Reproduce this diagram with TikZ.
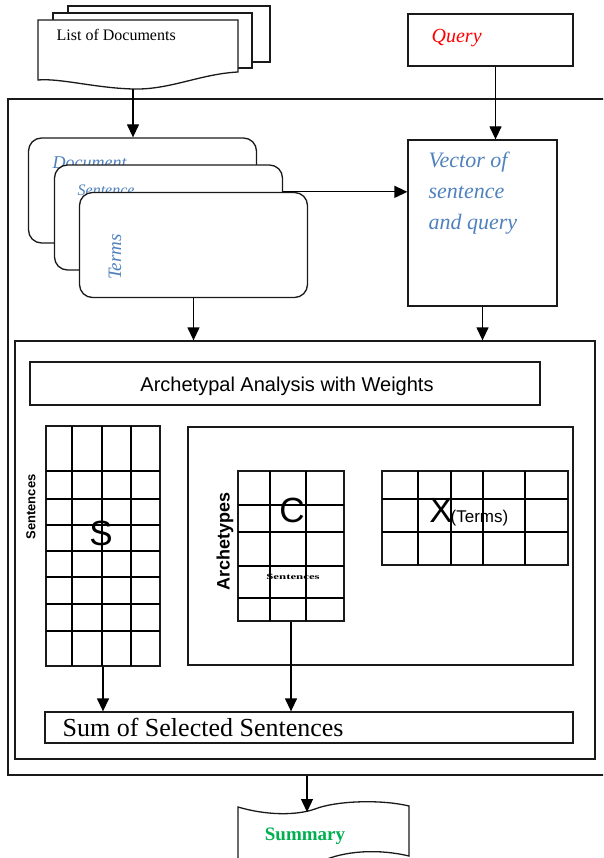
\documentclass[tikz,border=0pt]{standalone}
\usepackage{fontspec}
\setmainfont{Liberation Serif}
\setsansfont{Liberation Sans}
\usepackage{graphicx}
\usetikzlibrary{arrows.meta,positioning,calc}
\definecolor{ink}{HTML}{1a1a1a}
\definecolor{qred}{HTML}{FF0000}
\definecolor{vblue}{HTML}{4F81BD}
\definecolor{sgreen}{HTML}{00B050}
\newcommand{\fsz}[1]{\fontsize{#1}{#1}\selectfont}

\begin{document}
\begin{tikzpicture}[x=1pt, y=-1pt,
  line width=1.3pt,
  box/.style={draw=ink, inner sep=0pt},
  card/.style={draw=ink, fill=white, rounded corners=13pt, inner sep=0pt, minimum width=228pt, minimum height=105pt},
  sheet/.style={draw=ink, fill=white},
  tag/.style={text=vblue, inner sep=0pt},
  big/.style={font=\sffamily\fsz{35}, inner sep=0pt},
  >={Triangle[width=12pt,length=13pt]}]
  \clip (0,0) rectangle (603,858);
  % frames
  \node[box, minimum width=598pt, minimum height=676pt] (outer) at (307,437) {};
  \node[box, minimum width=580pt, minimum height=418pt] (inner) at (305,550) {};
  % list of documents
  \draw[sheet] (68,6) rectangle (270,62);
  \draw[sheet] (53,13) rectangle (252,68);
  \draw[sheet] (38,20) -- (238,20) -- (238,72) .. controls (200,74) and (170,90) .. (133,89)
    .. controls (95,88) and (60,78) .. (38,80) -- cycle;
  \coordinate (docbot) at (133,89);
  \node[anchor=west, inner sep=0pt, font=\fsz{16}] (docs) at (56,35) {List of Documents};
  % query and vector
  \node[box, minimum width=165pt, minimum height=52pt] (query) at (490.5,40) {};
  \node[anchor=west, inner sep=0pt, text=qred, font=\itshape\fsz{20}] (qtxt) at (431,38) {Query};
  \node[box, minimum width=149pt, minimum height=166pt] (vector) at (482.5,223) {};
  \node[tag, anchor=north west, align=left, font=\itshape\fontsize{22}{31}\selectfont] (vtxt) at (428,151)
    {Vector of\\ sentence\\ and query};
  % cards
  \node[card] (card1) at (142.5,190.5) {};
  \node[tag, anchor=base west, font=\itshape\fsz{18}] (doctag) at (52,169) {Document};
  \node[card] (card2) at (168.5,217.5) {};
  \node[tag, anchor=base west, font=\itshape\fsz{16}] (senttag) at (77,196) {Sentence};
  \node[card] (card3) at (193.5,245) {};
  \node[tag, rotate=90, font=\itshape\fsz{19}] (termtag) at (115,257) {Terms};
  % archetypal analysis
  \node[box, minimum width=510pt, minimum height=43pt] (aa) at (285,383.5) {};
  \node[inner sep=0pt, font=\sffamily\fsz{20}] (aatxt) at (287,386) {Archetypal Analysis with Weights};
  % S matrix
  \node[box, minimum width=114pt, minimum height=240pt] (sgrid) at (103,546) {};
  \foreach \x in {72,102,131} \draw (\x,426) -- (\x,666);
  \foreach \y in {471,499,525,551,577,604,631} \draw (46,\y) -- (160,\y);
  \node[big] (stxt) at (101,533) {S};
  \node[rotate=90, inner sep=0pt, font=\sffamily\bfseries\fsz{13}] (srow) at (31,507) {Sentences};
  % C and X
  \node[box, minimum width=385pt, minimum height=238pt] (cbox) at (380.5,546) {};
  \node[box, minimum width=106pt, minimum height=150pt] (cgrid) at (291,546) {};
  \foreach \x in {270,306} \draw (\x,471) -- (\x,621);
  \foreach \y in {505,532,566,598} \draw (238,\y) -- (344,\y);
  \node[big] (ctxt) at (292,510) {C};
  \node[inner sep=0pt, font=\bfseries\fsz{8}] (ccol) at (293,577) {\scalebox{1.6}[1]{Sentences}};
  \node[rotate=90, inner sep=0pt, font=\sffamily\bfseries\fsz{18}] (crow) at (225,541) {Archetypes};
  \node[box, minimum width=186pt, minimum height=94pt] (xgrid) at (475,518) {};
  \foreach \x in {418,451,483,525} \draw (\x,471) -- (\x,565);
  \foreach \y in {499,532} \draw (382,\y) -- (568,\y);
  \node[big] (xtxt) at (441,510) {X};
  \node[anchor=west, inner sep=0pt, font=\sffamily\fsz{17}] (xcol) at (450,518) {(Terms)};
  % sum
  \node[box, minimum width=528pt, minimum height=31pt] (sum) at (309,727.5) {};
  \node[anchor=west, inner sep=0pt, font=\fsz{26}] (sumtxt) at (62,727) {Sum of Selected Sentences};
  % summary
  \draw[sheet] (238,807) .. controls (265,815) and (295,816) .. (315,809)
    .. controls (335,801) and (380,799) .. (409,806) -- (409,856)
    .. controls (380,849) and (345,850) .. (320,862) .. controls (300,872) and (260,874) .. (238,870) -- cycle;
  \coordinate (sumtop) at (307,812);
  \node[text=sgreen, inner sep=0pt, font=\bfseries\fsz{19}] (summary) at (305,836) {Summary};
  % flow
  \draw[->] (docbot) -- (docbot |- card1.north);
  \draw[->] (card2.east |- card3.north) -- (card3.north -| vector.west);
  \draw[->] ([xshift=5pt]query.south) -- ([xshift=5pt]query.south |- vector.north);
  \draw[->] (card3.south) -- (card3.south |- inner.north);
  \draw[->] (vector.south) -- (vector.south |- inner.north);
  \draw[->] (sgrid.south) -- (sgrid.south |- sum.north);
  \draw[->] (cgrid.south) -- (cgrid.south |- sum.north);
  \draw[->] (outer.south) -- (sumtop);
\end{tikzpicture}
\end{document}
